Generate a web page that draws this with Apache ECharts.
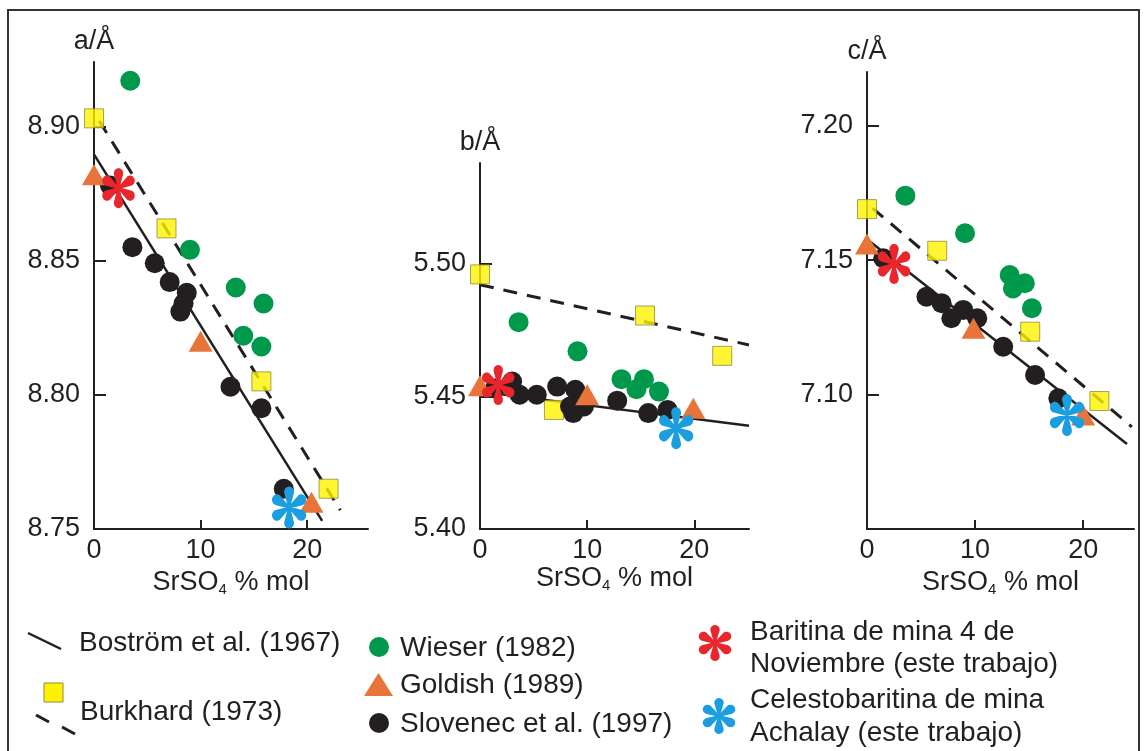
<!DOCTYPE html>
<html>
<head>
<meta charset="utf-8">
<script src="https://cdn.jsdelivr.net/npm/echarts@6/dist/echarts.min.js"></script>
<style>
  html, body { margin: 0; padding: 0; background: #fff; }
  #chart { width: 1144px; height: 751px; }
</style>
</head>
<body>
<div id="chart"></div>
<script>
// panel a: a/Å vs SrSO4
const aWieser = [[3.4, 8.917], [9.0, 8.854], [13.3, 8.840], [15.9, 8.834], [14.0, 8.822], [15.7, 8.818]];
const aBurkhard = [[0, 8.903], [6.8, 8.862], [15.7, 8.805], [22.0, 8.765]];
const aGoldish = [[0, 8.882], [10.0, 8.820], [20.4, 8.760]];
const aSlovenec = [[1.5, 8.878], [3.6, 8.855], [5.7, 8.849], [7.1, 8.842], [8.7, 8.838], [8.4, 8.834],
  [8.1, 8.831], [12.8, 8.803], [15.7, 8.795], [17.8, 8.765]];
const aBaritina = [[2.3, 8.877]];
const aAchalay = [[18.3, 8.758]];
const aBostromLine = [[0, 8.8896], [21.4, 8.753]];
const aBurkhardLine = [[0.5, 8.902], [23.1, 8.757]];

// panel b: b/Å
const bWieser = [[3.6, 5.478], [9.1, 5.467], [13.2, 5.4565], [15.3, 5.4565], [14.6, 5.4527], [16.7, 5.4518]];
const bBurkhard = [[0, 5.496], [6.9, 5.4449], [15.4, 5.4805], [22.6, 5.4653]];
const bGoldish = [[0, 5.454], [10.0, 5.4506], [19.9, 5.4455]];
const bSlovenec = [[1.4, 5.453], [3.0, 5.4556], [3.7, 5.4506], [5.3, 5.4506], [7.2, 5.4537], [8.9, 5.4525],
  [8.7, 5.4437], [9.7, 5.4462], [8.4, 5.4462], [12.8, 5.4484], [15.7, 5.4437], [17.5, 5.4449]];
const bBaritina = [[1.7, 5.4543]];
const bAchalay = [[18.3, 5.438]];
const bBostromLine = [[0, 5.4518], [25.1, 5.4389]];
const bBurkhardLine = [[0, 5.4921], [25.1, 5.4694]];

// panel c: c/Å
const cWieser = [[3.55, 7.174], [9.07, 7.160], [13.2, 7.1445], [14.6, 7.1414], [13.5, 7.1395], [15.25, 7.1321]];
const cBurkhard = [[0, 7.169], [6.5, 7.1535], [15.1, 7.1234], [21.5, 7.0976]];
const cGoldish = [[0, 7.156], [9.85, 7.1247], [20.0, 7.0924]];
const cSlovenec = [[1.5, 7.1507], [5.5, 7.1364], [6.9, 7.134], [8.9, 7.1315], [7.8, 7.1284], [10.2, 7.1284],
  [12.6, 7.1178], [15.55, 7.1073], [17.7, 7.0986]];
const cBaritina = [[2.5, 7.1486]];
const cAchalay = [[18.5, 7.0924]];
const cBostromLine = [[0, 7.1578], [24.05, 7.0816]];
const cBurkhardLine = [[0.5, 7.1694], [24.5, 7.088]];

// axes
const yNames = ['a/Å', 'b/Å', 'c/Å'];
const yMin = [8.75, 5.40, 7.05];
const yMax = [8.924, 5.538, 7.22];
const yLabels = [[8.75, 8.80, 8.85, 8.90], [5.40, 5.45, 5.50], [7.10, 7.15, 7.20]];
const yTicks = [[8.80, 8.85, 8.90], [5.45, 5.50], [7.10, 7.15, 7.20]];
const xMax = [25.7, 25.1, 24.7];
const xLabels = [0, 10, 20];
const xTicks = [10, 20];

const ink = '#231f20';
const font = 'Liberation Sans';
const colGreen = '#00984a', colYellow = '#fff200', colOrange = '#e8743a';
const colRed = '#e8262b', colBlue = '#1a9ee0';

// six-armed asterisk with rounded petals, as a list of petal outlines (unit box 0..100)
function asteriskPetals() {
  const R = 50, c = 37, rb = 13, w0 = 2.5;
  const rot = (x, y, th) => [x * Math.cos(th) - y * Math.sin(th) + R, x * Math.sin(th) + y * Math.cos(th) + R];
  const petals = [];
  for (let k = 0; k < 6; k++) {
    const th = (-90 + k * 60) * Math.PI / 180;
    const pts = [rot(0, -w0, th)];
    for (let i = 0; i <= 16; i++) {
      const phi = (-110 + 220 * i / 16) * Math.PI / 180;
      pts.push(rot(c + rb * Math.cos(phi), rb * Math.sin(phi), th));
    }
    pts.push(rot(0, w0, th));
    petals.push(pts);
  }
  return petals;
}
const petals = asteriskPetals();
const star = petals.map(pts => 'M' + pts.map(p => p[0].toFixed(2) + ' ' + p[1].toFixed(2)).join(' L') + ' Z').join(' ');

function starIcon(cx, cy, h, color) {
  const s = h / 100;
  return {
    type: 'group', x: cx - 50 * s, y: cy - 50 * s, scaleX: s, scaleY: s,
    children: petals.map(pts => ({ type: 'polygon', shape: { points: pts }, style: { fill: color } }))
  };
}

const grids = [
  { left: 94, top: 62, width: 274, height: 467 },
  { left: 480, top: 163, width: 269, height: 366 },
  { left: 867, top: 72, width: 267, height: 457 }
].map(g => Object.assign(g, { outerBoundsMode: 'none', containLabel: false }));

const xAxes = [0, 1, 2].map(i => ({
  gridIndex: i, type: 'value', min: 0, max: xMax[i], interval: 10,
  name: '{n|SrSO}{s|4}{n| % mol}', nameLocation: 'middle', nameGap: 33,
  nameTextStyle: {
    rich: {
      n: { fontFamily: font, fontSize: 27, lineHeight: 30, color: ink },
      s: { fontFamily: font, fontSize: 15, lineHeight: 14, color: ink, verticalAlign: 'bottom' }
    }
  },
  axisLine: { show: true, onZero: false, lineStyle: { color: ink, width: 2 } },
  axisTick: { show: true, inside: true, length: 9, customValues: xTicks, lineStyle: { color: ink, width: 2 } },
  axisLabel: { margin: 8, fontFamily: font, fontSize: 27, color: ink, customValues: xLabels },
  splitLine: { show: false }
}));

const yAxes = [0, 1, 2].map(i => ({
  gridIndex: i, type: 'value', min: yMin[i], max: yMax[i], interval: 0.05,
  name: yNames[i], nameLocation: 'end', nameGap: 6,
  nameTextStyle: { fontFamily: font, fontSize: 27, color: ink, lineHeight: 28 },
  axisLine: { show: true, onZero: false, lineStyle: { color: ink, width: 2 } },
  axisTick: { show: true, inside: true, length: 12, customValues: yTicks[i], lineStyle: { color: ink, width: 2 } },
  axisLabel: {
    margin: 14, fontFamily: font, fontSize: 27, color: ink, customValues: yLabels[i],
    formatter: v => v.toFixed(2)
  },
  splitLine: { show: false }
}));

function line(data, i, dashed) {
  return {
    type: 'line', data, xAxisIndex: i, yAxisIndex: i, symbol: 'none', silent: true, clip: false, z: 1,
    lineStyle: { color: ink, width: dashed ? 3 : 2.5, type: dashed ? [14, 10] : 'solid' }
  };
}
function scat(data, i, symbol, size, color, z, extra) {
  return Object.assign({
    type: 'scatter', data, xAxisIndex: i, yAxisIndex: i, symbol, symbolSize: size, silent: true, clip: false, z,
    itemStyle: { color, opacity: 1 }
  }, extra || {});
}

const panels = [
  [aWieser, aBurkhard, aGoldish, aSlovenec, aBaritina, aAchalay, aBostromLine, aBurkhardLine],
  [bWieser, bBurkhard, bGoldish, bSlovenec, bBaritina, bAchalay, bBostromLine, bBurkhardLine],
  [cWieser, cBurkhard, cGoldish, cSlovenec, cBaritina, cAchalay, cBostromLine, cBurkhardLine]
];
const series = [];
panels.forEach((p, i) => {
  series.push(line(p[6], i, false));
  series.push(line(p[7], i, true));
  series.push(scat(p[0], i, 'circle', 20, colGreen, 2));
  series.push(scat(p[1], i, 'rect', 19, colYellow, 3, { itemStyle: { color: colYellow, borderColor: '#8d8b45', borderWidth: 1 } }));
  series.push(scat(p[3], i, 'circle', 20, ink, 4));
  series.push(scat(p[2], i, 'triangle', [24, 21], colOrange, 5));
  series.push(scat(p[4], i, 'path://' + star, [36, 40], colRed, 6, { symbolKeepAspect: true }));
  series.push(scat(p[5], i, 'path://' + star, [38, 42], colBlue, 6, { symbolKeepAspect: true }));
});

function txt(x, y, text) {
  return { type: 'text', x, y, style: { text, fontFamily: font, fontSize: 28, fill: ink, verticalAlign: 'middle', align: 'left' } };
}
const graphic = [
  { type: 'rect', shape: { x: 8, y: 10, width: 1131, height: 760 }, style: { fill: 'none', stroke: '#333', lineWidth: 2 } },
  { type: 'line', shape: { x1: 28, y1: 633, x2: 61, y2: 649 }, style: { stroke: ink, lineWidth: 2.5 } },
  txt(79, 643, 'Boström et al. (1967)'),
  { type: 'rect', shape: { x: 44, y: 683, width: 19, height: 19 }, style: { fill: colYellow, stroke: '#8d8b45', lineWidth: 1 } },
  txt(80, 712, 'Burkhard (1973)'),
  { type: 'line', shape: { x1: 36, y1: 715, x2: 49, y2: 722 }, style: { stroke: ink, lineWidth: 3 } },
  { type: 'line', shape: { x1: 62, y1: 727, x2: 75, y2: 734 }, style: { stroke: ink, lineWidth: 3 } },
  { type: 'circle', shape: { cx: 379, cy: 647, r: 10 }, style: { fill: colGreen } },
  txt(400, 648, 'Wieser (1982)'),
  { type: 'polygon', shape: { points: [[378.5, 673], [364, 696], [393, 696]] }, style: { fill: colOrange } },
  txt(400, 685, 'Goldish (1989)'),
  { type: 'circle', shape: { cx: 379, cy: 723, r: 10 }, style: { fill: ink } },
  txt(400, 724, 'Slovenec et al. (1997)'),
  starIcon(715, 643, 36, colRed),
  txt(750, 632, 'Baritina de mina 4 de'),
  txt(750, 664, 'Noviembre (este trabajo)'),
  starIcon(719, 716, 36, colBlue),
  txt(750, 700, 'Celestobaritina de mina'),
  txt(750, 733, 'Achalay (este trabajo)')
];

const chart = echarts.init(document.getElementById('chart'), null, { renderer: 'canvas' });
chart.setOption({
  backgroundColor: '#fff',
  animation: false,
  grid: grids,
  xAxis: xAxes,
  yAxis: yAxes,
  series,
  graphic
});
</script>
</body>
</html>
